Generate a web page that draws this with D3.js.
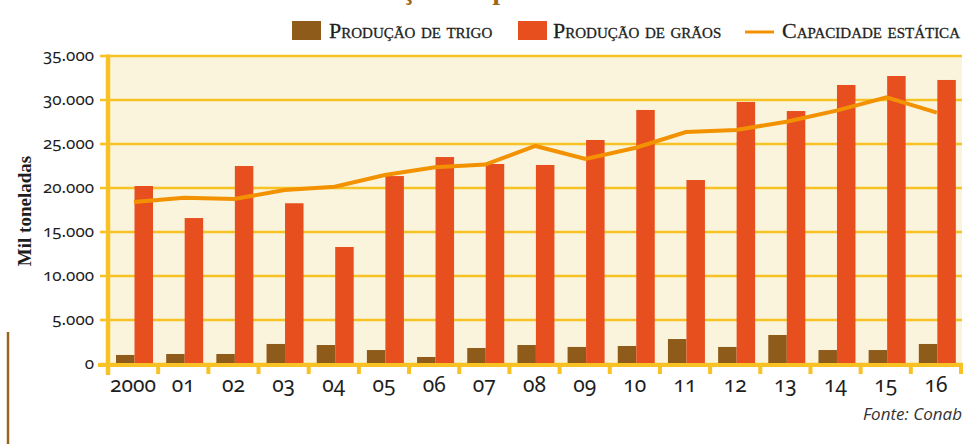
<!DOCTYPE html>
<html>
<head>
<meta charset="utf-8">
<script src="https://cdn.jsdelivr.net/npm/d3@7"></script>
<style>
  body { margin: 0; background: #fff; }
  svg text { fill: #1e1e1e; }
  .num { font-family: "Noto Sans", sans-serif; font-variant-numeric: oldstyle-nums; }
  .leg { font-family: "Liberation Serif", serif; font-variant: small-caps; font-size: 22px; stroke: #1e1e1e; stroke-width: 0.3px; }
</style>
</head>
<body>
<svg id="chart" width="973" height="444"></svg>
<script>
// valores (mil toneladas)
var anos = ["2000","01","02","03","04","05","06","07","08","09","10","11","12","13","14","15","16"];
var trigo = [970, 1080, 1080, 2220, 2100, 1530, 740, 1760, 2100, 1880, 1990, 2780, 1880, 3240, 1530, 1530, 2220];
var graos = [20170, 16530, 22440, 18210, 13240, 21300, 23460, 22670, 22560, 25400, 28810, 20850, 29720, 28690, 31650, 32670, 32220];
var capacidade = [18350, 18840, 18690, 19720, 20090, 21420, 22300, 22600, 24720, 23240, 24520, 26300, 26530, 27480, 28730, 30250, 28500];
var yTicks = [0, 5000, 10000, 15000, 20000, 25000, 30000, 35000];

var gold = "#F8C124", cream = "#FAF4DC", brown = "#8E5B1A", red = "#E84F1F", lineC = "#F39200";

var ptBR = d3.formatLocale({decimal: ",", thousands: ".", grouping: [3], currency: ["R$", ""]});
var fmt = ptBR.format(",d");

var svg = d3.select("#chart");

var pLeft = 108, pRight = 961, pTop = 55.5, pBottom = 363.5;

var x = d3.scaleBand().domain(anos).range([pLeft, pRight]).padding(0);
var xs = d3.scaleBand().domain(["trigo", "graos"]).range([8, 45]);
var y = d3.scaleLinear().domain([0, 35000]).range([pBottom, pTop]);

// titulo (cortado no topo)
svg.append("text")
  .attr("x", 331).attr("y", -1)
  .style("font-family", "Liberation Serif, serif")
  .style("font-size", "27px").style("font-weight", "bold")
  .style("fill", "#A0661A")
  .text("Produção e capacidade estática");

// fundo
svg.append("rect")
  .attr("x", pLeft).attr("y", pTop)
  .attr("width", 962 - pLeft).attr("height", pBottom - pTop)
  .attr("fill", cream);

// grade + rótulos do eixo y
var yAxis = svg.append("g")
  .attr("transform", "translate(962,0)")
  .call(d3.axisLeft(y).tickValues(yTicks).tickSize(862).tickPadding(6).tickFormat(fmt));
yAxis.select(".domain").remove();
yAxis.selectAll("line").attr("stroke", gold).attr("stroke-width", 2.5);
yAxis.selectAll("text")
  .attr("class", "num")
  .style("font-size", "17px")
  .style("fill", "#1e1e1e");

// barras
var grupos = svg.selectAll(".ano")
  .data(anos)
  .enter().append("g")
  .attr("transform", function(d) { return "translate(" + x(d) + ",0)"; });

grupos.append("rect")
  .attr("x", xs("trigo"))
  .attr("width", xs.bandwidth())
  .attr("y", function(d, i) { return y(trigo[i]); })
  .attr("height", function(d, i) { return y(0) - y(trigo[i]); })
  .attr("fill", brown);

grupos.append("rect")
  .attr("x", xs("graos"))
  .attr("width", xs.bandwidth())
  .attr("y", function(d, i) { return y(graos[i]); })
  .attr("height", function(d, i) { return y(0) - y(graos[i]); })
  .attr("fill", red);

// linha capacidade
var linha = d3.line()
  .x(function(d, i) { return x(anos[i]) + 26; })
  .y(function(d) { return y(d); });

svg.append("path")
  .datum(capacidade)
  .attr("d", linha)
  .attr("fill", "none")
  .attr("stroke", lineC)
  .attr("stroke-width", 4);

// eixo x
svg.append("line")
  .attr("x1", 98).attr("x2", 962)
  .attr("y1", 365).attr("y2", 365)
  .attr("stroke", gold).attr("stroke-width", 4);

svg.selectAll(".xtick")
  .data(anos.concat(["fim"]))
  .enter().append("line")
  .attr("x1", function(d) { return d === "fim" ? pRight : x(d); })
  .attr("x2", function(d) { return d === "fim" ? pRight : x(d); })
  .attr("y1", 363).attr("y2", 374)
  .attr("stroke", gold).attr("stroke-width", 4);

// eixo y (linha vertical)
svg.append("line")
  .attr("x1", 108).attr("x2", 108)
  .attr("y1", pTop - 1).attr("y2", 375)
  .attr("stroke", gold).attr("stroke-width", 4.5);

svg.selectAll(".xlab")
  .data(anos)
  .enter().append("text")
  .attr("class", "num")
  .attr("x", function(d) { return x(d) + x.bandwidth() / 2; })
  .attr("y", 392)
  .attr("text-anchor", "middle")
  .style("font-size", "21px")
  .text(function(d) { return d; });

// titulo eixo y
svg.append("text")
  .attr("transform", "translate(31,211) rotate(-90)")
  .attr("text-anchor", "middle")
  .style("font-family", "Liberation Serif, serif")
  .style("font-weight", "bold")
  .style("font-size", "19px")
  .text("Mil toneladas");

// legenda
svg.append("rect").attr("x", 292).attr("y", 21).attr("width", 29).attr("height", 19).attr("fill", brown);
svg.append("text").attr("class", "leg").attr("x", 329).attr("y", 38).text("Produção de trigo");
svg.append("rect").attr("x", 518).attr("y", 21).attr("width", 29).attr("height", 19).attr("fill", red);
svg.append("text").attr("class", "leg").attr("x", 553).attr("y", 38).text("Produção de grãos");
svg.append("line").attr("x1", 745).attr("x2", 774).attr("y1", 32).attr("y2", 32)
  .attr("stroke", lineC).attr("stroke-width", 3);
svg.append("text").attr("class", "leg").attr("x", 782).attr("y", 38).text("Capacidade estática");

// fonte
svg.append("text")
  .attr("x", 962).attr("y", 420)
  .attr("text-anchor", "end")
  .style("font-family", "Open Sans, sans-serif")
  .style("font-style", "italic")
  .style("font-size", "17px")
  .style("fill", "#333")
  .text("Fonte: Conab");

// filete decorativo
svg.append("line")
  .attr("x1", 8).attr("x2", 8).attr("y1", 332).attr("y2", 444)
  .attr("stroke", "#9A6420").attr("stroke-width", 2.5);
</script>
</body>
</html>
